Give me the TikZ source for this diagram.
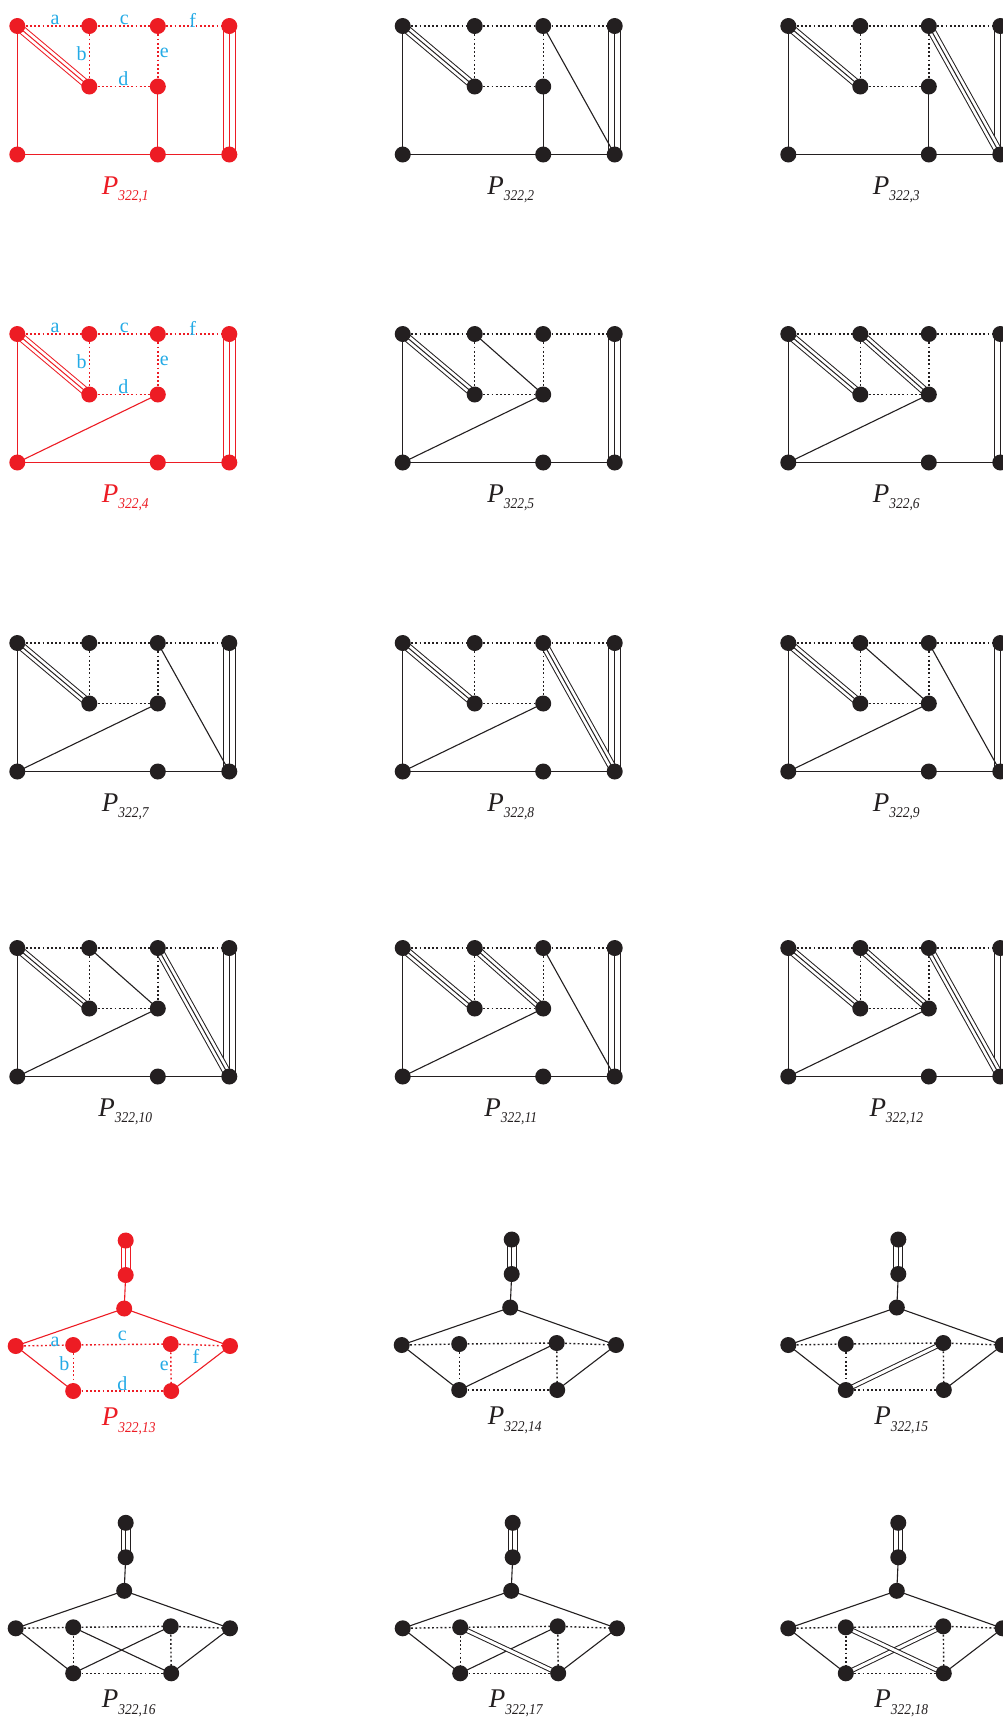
\documentclass[tikz,border=0pt]{standalone}
\usepackage{fontspec}
\setmainfont{Liberation Serif}
\newfontfamily\subfnt[FakeStretch=0.9]{Liberation Serif}
\pgfdeclarelayer{bglayer}
\pgfdeclarelayer{edgelayer}
\pgfsetlayers{bglayer,edgelayer,main}
\definecolor{pred}{RGB}{237,28,36}
\definecolor{lcyan}{RGB}{35,170,230}
\definecolor{pblack}{RGB}{35,31,32}

\tikzset{
  dot/.style={circle, fill=#1, draw=none, inner sep=0pt, minimum size=16pt},
  solidedge/.style={line width=1.1pt},
  dotedge/.style={line width=1.4pt, dash pattern=on 1.8pt off 2.4pt},
  tripedge/.style 2 args={line width=1pt, preaction={draw, line width=#1}, preaction={draw=white, line width=#2}},
  dbledge/.style={line width=1pt, double=white, double distance=3pt},
  lettr/.style={text=lcyan, font=\fontsize{20}{20}\selectfont, inner sep=0pt},
  plabel/.style={anchor=base, inner sep=0pt},
}

\newcommand\plab[1]{{\fontsize{27}{27}\selectfont\itshape P}\raisebox{-6.5pt}{\subfnt\itshape\fontsize{15}{15}\selectfont 322,#1}}

% rectangular panel: #1 prefix, #2 x, #3 y, #4 colour, #5 label number, #6 variant (1: F-H, 2: G-F)
\newcommand\rectpanel[6]{%
\begin{scope}[shift={(#2,#3)}]
  \node[dot=#4] (#1A) at (0,0) {};
  \node[dot=#4] (#1B) at (72,0) {};
  \node[dot=#4] (#1C) at (140.5,0) {};
  \node[dot=#4] (#1D) at (212,0) {};
  \node[dot=#4] (#1E) at (72,60.5) {};
  \node[dot=#4] (#1F) at (140.5,60.5) {};
  \node[dot=#4] (#1G) at (0,128.5) {};
  \node[dot=#4] (#1H) at (140.5,128.5) {};
  \node[dot=#4] (#1I) at (212,128.5) {};
  \node[plabel, text=#4] (#1P) at (108,168) {\plab{#5}};
  \begin{pgfonlayer}{edgelayer}
  \begin{scope}[color=#4]
    \draw[dotedge] (#1A.center) -- (#1B.center);
    \draw[dotedge] (#1B.center) -- (#1C.center);
    \draw[dotedge] (#1C.center) -- (#1D.center);
    \draw[dotedge] (#1B.center) -- (#1E.center);
    \draw[dotedge] (#1E.center) -- (#1F.center);
    \draw[dotedge] (#1C.center) -- (#1F.center);
    \draw[solidedge] (#1A.center) -- (#1G.center);
    \draw[solidedge] (#1G.center) -- (#1H.center);
    \draw[solidedge] (#1H.center) -- (#1I.center);
    \draw[tripedge={8.5pt}{6.5pt}] (#1A.center) -- (#1E.center);
    \draw[tripedge={13pt}{11pt}] (#1D.center) -- (#1I.center);
    \ifnum#6=1
      \draw[solidedge] (#1F.center) -- (#1H.center);
    \else
      \draw[solidedge] (#1G.center) -- (#1F.center);
    \fi
  \end{scope}
  \end{pgfonlayer}
\end{scope}}

\newcommand\rectletters[3]{%
\begin{scope}[shift={(#2,#3)}]
  \node[lettr] (#1la) at (37.7,-6) {a};
  \node[lettr] (#1lc) at (107,-6) {c};
  \node[lettr] (#1lf) at (175.4,-6) {f};
  \node[lettr] (#1lb) at (64.4,27.3) {b};
  \node[lettr] (#1le) at (147,27.3) {e};
  \node[lettr] (#1ld) at (106,52.3) {d};
\end{scope}}

% hexagonal panel: #1 prefix, #2 x, #3 y, #4 colour, #5 label number
\newcommand\hexpanel[5]{%
\begin{scope}[shift={(#2,#3)}]
  \node[dot=#4] (#1L) at (0,0) {};
  \node[dot=#4] (#1IL) at (57.5,-1) {};
  \node[dot=#4] (#1IR) at (155,-2) {};
  \node[dot=#4] (#1R) at (214.3,0) {};
  \node[dot=#4] (#1BL) at (57.5,45) {};
  \node[dot=#4] (#1BR) at (155.5,45) {};
  \node[dot=#4] (#1H) at (108.5,-37.5) {};
  \node[dot=#4] (#1S) at (110,-71) {};
  \node[dot=#4] (#1T) at (110,-105.5) {};
  \node[plabel, text=#4] (#1P) at (113,79.5) {\plab{#5}};
  \begin{pgfonlayer}{edgelayer}
  \begin{scope}[color=#4]
    \draw[tripedge={10pt}{8pt}] (#1T.center) -- (#1S.center);
    \draw[solidedge] (#1S.center) -- (#1H.center);
    \draw[solidedge] (#1H.center) -- (#1L.center);
    \draw[solidedge] (#1H.center) -- (#1R.center);
    \draw[solidedge] (#1L.center) -- (#1BL.center);
    \draw[solidedge] (#1R.center) -- (#1BR.center);
    \draw[dotedge] (#1L.center) -- (#1IL.center);
    \draw[dotedge] (#1IL.center) -- (#1IR.center);
    \draw[dotedge] (#1IR.center) -- (#1R.center);
    \draw[dotedge] (#1IL.center) -- (#1BL.center);
    \draw[dotedge] (#1IR.center) -- (#1BR.center);
    \draw[dotedge] (#1BL.center) -- (#1BR.center);
  \end{scope}
  \end{pgfonlayer}
\end{scope}}

\newcommand\hexletters[3]{%
\begin{scope}[shift={(#2,#3)}]
  \node[lettr] (#1la) at (39.3,-4.6) {a};
  \node[lettr] (#1lc) at (106.6,-10) {c};
  \node[lettr] (#1lf) at (180.3,10.4) {f};
  \node[lettr] (#1lb) at (48.6,17.7) {b};
  \node[lettr] (#1le) at (148.6,20) {e};
  \node[lettr] (#1ld) at (106.6,37.7) {d};
\end{scope}}

\newcommand\onedges[1]{\begin{pgfonlayer}{edgelayer}#1\end{pgfonlayer}}

\begin{document}
\begin{tikzpicture}[x=1pt, y=-1pt]
\useasboundingbox (0,0) rectangle (1003,1717);
\clip (0,0) rectangle (1003,1717);
\begin{pgfonlayer}{bglayer}
  \fill[white] (0,0) rectangle (1003,1717);
\end{pgfonlayer}

% row 1
\rectpanel{pa}{17.3}{26}{pred}{1}{1}
\rectletters{pa}{17.3}{26}
\rectpanel{pb}{402.7}{26}{pblack}{2}{1}
\rectpanel{pc}{788.3}{26}{pblack}{3}{1}
% row 2
\rectpanel{pd}{17.3}{334}{pred}{4}{2}
\rectletters{pd}{17.3}{334}
\rectpanel{pe}{402.7}{334}{pblack}{5}{2}
\rectpanel{pf}{788.3}{334}{pblack}{6}{2}
% row 3
\rectpanel{pg}{17.3}{643}{pblack}{7}{2}
\rectpanel{ph}{402.7}{643}{pblack}{8}{2}
\rectpanel{pi}{788.3}{643}{pblack}{9}{2}
% row 4
\rectpanel{pj}{17.3}{948}{pblack}{10}{2}
\rectpanel{pk}{402.7}{948}{pblack}{11}{2}
\rectpanel{pl}{788.3}{948}{pblack}{12}{2}
% row 5
\hexpanel{pm}{15.7}{1346}{pred}{13}
\hexletters{pm}{15.7}{1346}
\hexpanel{pn}{401.7}{1345}{pblack}{14}
\hexpanel{po}{788.3}{1345}{pblack}{15}
% row 6
\hexpanel{pp}{15.7}{1628.3}{pblack}{16}
\hexpanel{pq}{402.7}{1628.3}{pblack}{17}
\hexpanel{pr}{788.3}{1628.3}{pblack}{18}

\onedges{%
  \begin{scope}[color=pblack]
  \draw[solidedge] (pbC.center) -- (pbI.center);
  \draw[tripedge={8.5pt}{6.5pt}] (pcC.center) -- (pcI.center);
  \draw[solidedge] (peB.center) -- (peF.center);
  \draw[tripedge={8.5pt}{6.5pt}] (pfB.center) -- (pfF.center);
  \draw[solidedge] (pgC.center) -- (pgI.center);
  \draw[tripedge={8.5pt}{6.5pt}] (phC.center) -- (phI.center);
  \draw[solidedge] (piB.center) -- (piF.center);
  \draw[solidedge] (piC.center) -- (piI.center);
  \draw[solidedge] (pjB.center) -- (pjF.center);
  \draw[tripedge={8.5pt}{6.5pt}] (pjC.center) -- (pjI.center);
  \draw[tripedge={8.5pt}{6.5pt}] (pkB.center) -- (pkF.center);
  \draw[solidedge] (pkC.center) -- (pkI.center);
  \draw[tripedge={8.5pt}{6.5pt}] (plB.center) -- (plF.center);
  \draw[tripedge={8.5pt}{6.5pt}] (plC.center) -- (plI.center);
  \draw[solidedge] (pnBL.center) -- (pnIR.center);
  \draw[dbledge] (poBL.center) -- (poIR.center);
  \draw[solidedge] (ppBL.center) -- (ppIR.center);
  \draw[solidedge] (ppIL.center) -- (ppBR.center);
  \draw[solidedge] (pqBL.center) -- (pqIR.center);
  \draw[dbledge] (pqIL.center) -- (pqBR.center);
  \draw[dbledge] (prBL.center) -- (prIR.center);
  \draw[dbledge] (prIL.center) -- (prBR.center);
  \end{scope}}
\end{tikzpicture}
\end{document}
